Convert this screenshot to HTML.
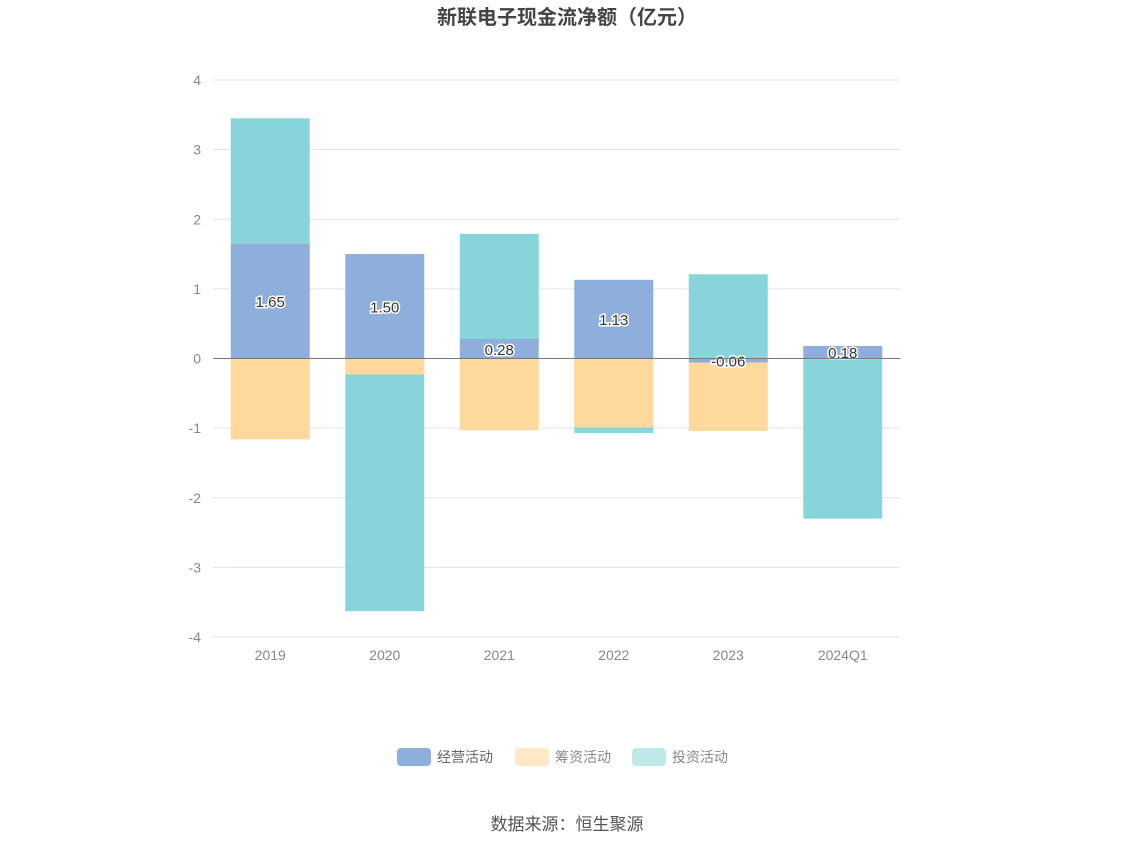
<!DOCTYPE html>
<html><head><meta charset="utf-8"><style>
body{margin:0;background:#fff;font-family:"Liberation Sans","Noto Sans CJK SC",sans-serif;}
</style></head><body>
<svg id="chart" width="1134" height="849" xmlns="http://www.w3.org/2000/svg">
<text x="567" y="24" text-anchor="middle" font-size="20" font-weight="bold" fill="#444" font-family="Liberation Sans, Noto Sans CJK SC, sans-serif">新联电子现金流净额（亿元）</text>
<g id="grid"></g><g id="bars"></g><g id="labels"></g>
<g font-size="14" fill="#666" font-family="Liberation Sans, Noto Sans CJK SC, sans-serif">
<g><rect x="397" y="748" width="34" height="18" rx="4" fill="#8eaedb"/><text x="437" y="762">经营活动</text></g>
<g><rect x="515" y="748" width="34" height="18" rx="4" fill="#ffe8c6"/><text x="555" y="762" fill="#888">筹资活动</text></g>
<g><rect x="632" y="748" width="34" height="18" rx="4" fill="#bfe8ea"/><text x="672" y="762" fill="#888">投资活动</text></g>
</g>
<text x="567" y="830" text-anchor="middle" font-size="17" fill="#555" font-family="Liberation Sans, Noto Sans CJK SC, sans-serif">数据来源：恒生聚源</text>
</svg>
<script>
const categories=["2019","2020","2021","2022","2023","2024Q1"];
const operating=[1.65,1.50,0.28,1.13,-0.06,0.18];
const financing=[-1.16,-0.23,-1.03,-0.99,-0.98,-0.01];
const investing=[1.80,-3.40,1.51,-0.08,1.21,-2.29];
const yTicks=[4,3,2,1,0,-1,-2,-3,-4];
const NS="http://www.w3.org/2000/svg";
const x0=213,x1=900,yTop=80,yBot=637,yMax=4,yMin=-4;
const y=v=>yTop+(yMax-v)/(yMax-yMin)*(yBot-yTop);
const band=(x1-x0)/categories.length;
const xc=i=>x0+band*(i+0.5);
function mk(tag,attrs,parent){const e=document.createElementNS(NS,tag);for(const k in attrs)e.setAttribute(k,attrs[k]);parent.appendChild(e);return e;}
const grid=document.getElementById('grid'),bars=document.getElementById('bars'),labels=document.getElementById('labels');
yTicks.forEach(t=>{
  if(t!==0){const l=mk('line',{x1:x0,x2:x1,y1:y(t),y2:y(t),stroke:'#e0e3ef','stroke-width':1},grid);
  
  }
  const tx=mk('text',{x:x0-12,y:y(t)+5,'text-anchor':'end','font-size':14,fill:'#888'},grid);
  tx.textContent=t;
  
  
});
categories.forEach((c,i)=>{
  const tx=mk('text',{x:xc(i),y:660,'text-anchor':'middle','font-size':14,fill:'#888'},grid);
  tx.textContent=c;
  
  
});
const series=[[operating,'#8eaedb','operating'],[financing,'#ffd89b','financing'],[investing,'#87d5da','investing']];
const bw=79;
categories.forEach((c,i)=>{
  let pos=0,neg=0;
  series.forEach(([arr,col,nm])=>{
    const v=arr[i];let a,b;
    if(v>=0){a=pos;b=pos+v;pos=b;}else{a=neg;b=neg+v;neg=b;}
    const r=mk('rect',{x:xc(i)-bw/2,y:Math.min(y(a),y(b)),width:bw,height:Math.abs(y(a)-y(b)),fill:col},bars);
    
    
  });
  const v=operating[i];
  const t=mk('text',{x:xc(i),y:y(v/2)+6,'text-anchor':'middle','font-size':15,fill:'#333',stroke:'#fff','stroke-width':3,'paint-order':'stroke'},labels);
  t.textContent=v.toFixed(2);
  
  
});
const z=mk('line',{x1:x0,x2:x1,y1:y(0),y2:y(0),stroke:'#777','stroke-width':1},labels);


document.getElementById('chart').insertBefore(labels,null);
</script>
</body></html>
